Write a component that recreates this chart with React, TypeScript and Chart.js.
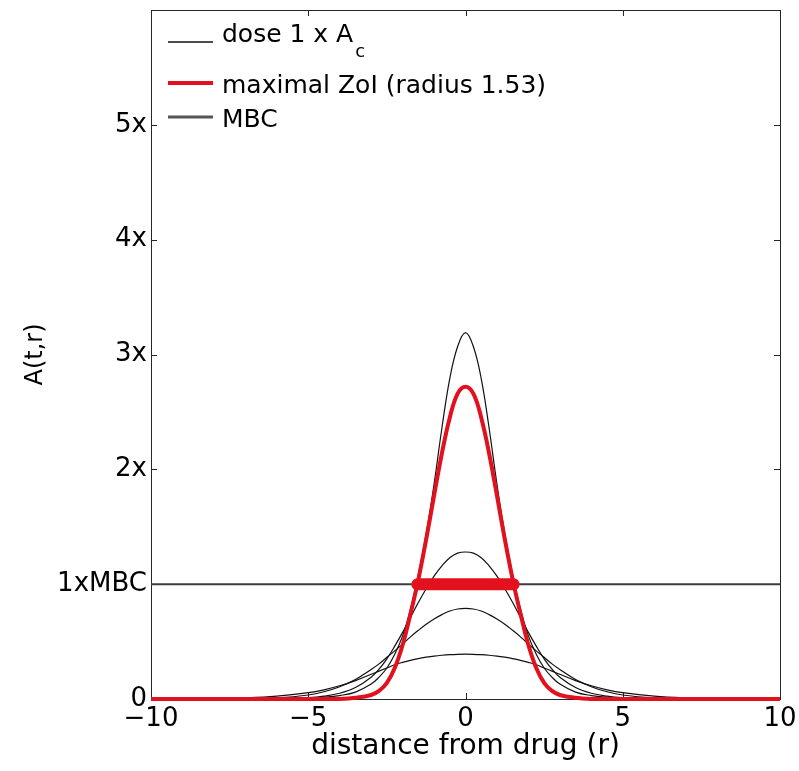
import React, { useEffect, useRef } from "react";
import { Chart, registerables } from "chart.js";

Chart.register(...registerables);

// distance from drug (r)
const rValues = [
  -10, -8, -7, -6, -5, -4.5, -4, -3.5, -3, -2.75, -2.5, -2.25, -2, -1.75, -1.5, -1.25, -1, -0.75, -0.5, -0.25,
  0,
  0.25, 0.5, 0.75, 1, 1.25, 1.5, 1.75, 2, 2.25, 2.5, 2.75, 3, 3.5, 4, 4.5, 5, 6, 7, 8, 10,
];

// dose 1 x A_c profiles (black)
const doseEarly = [
  0, 0, 0, 0.002, 0.008, 0.015, 0.03, 0.06, 0.13, 0.19, 0.27, 0.39, 0.55, 0.78, 1.08, 1.44, 1.87, 2.36, 2.79, 3.07,
  3.19,
  3.07, 2.79, 2.36, 1.87, 1.44, 1.08, 0.78, 0.55, 0.39, 0.27, 0.19, 0.13, 0.06, 0.03, 0.015, 0.008, 0.002, 0, 0, 0,
];
const doseMid = [
  0, 0, 0, 0.002, 0.012, 0.025, 0.05, 0.1, 0.19, 0.26, 0.35, 0.46, 0.58, 0.71, 0.84, 0.96, 1.07, 1.16, 1.23, 1.27,
  1.28,
  1.27, 1.23, 1.16, 1.07, 0.96, 0.84, 0.71, 0.58, 0.46, 0.35, 0.26, 0.19, 0.1, 0.05, 0.025, 0.012, 0.002, 0, 0, 0,
];
const doseLate = [
  0, 0.001, 0.003, 0.01, 0.035, 0.063, 0.107, 0.17, 0.257, 0.306, 0.363, 0.419, 0.479, 0.541, 0.598, 0.651, 0.697, 0.735, 0.766, 0.784,
  0.79,
  0.784, 0.766, 0.735, 0.697, 0.651, 0.598, 0.541, 0.479, 0.419, 0.363, 0.306, 0.257, 0.17, 0.107, 0.063, 0.035, 0.01, 0.003, 0.001, 0,
];
const doseLatest = [
  0, 0.004, 0.01, 0.025, 0.055, 0.08, 0.115, 0.16, 0.215, 0.243, 0.27, 0.298, 0.319, 0.337, 0.352, 0.364, 0.374, 0.381, 0.386, 0.389,
  0.39,
  0.389, 0.386, 0.381, 0.374, 0.364, 0.352, 0.337, 0.319, 0.298, 0.27, 0.243, 0.215, 0.16, 0.115, 0.08, 0.055, 0.025, 0.01, 0.004, 0,
];
// maximal ZoI profile (red)
const maximalZoI = [
  0, 0, 0, 0, 0, 0, 0, 0.01, 0.035, 0.07, 0.14, 0.27, 0.47, 0.74, 1.04, 1.39, 1.77, 2.14, 2.45, 2.66,
  2.72,
  2.66, 2.45, 2.14, 1.77, 1.39, 1.04, 0.74, 0.47, 0.27, 0.14, 0.07, 0.035, 0.01, 0, 0, 0, 0, 0, 0, 0,
];

const mbcLevel = 1;
const zoiRadius = 1.53;
const xRange = [-10, 10];
const yRange = [0, 6];
const xTickValues = [-10, -5, 0, 5, 10];
const xTickLabels = ["\u221210", "\u22125", "0", "5", "10"];
const yTickValues = [0, 1, 2, 3, 4, 5];
const yTickLabels = ["0", "1xMBC", "2x", "3x", "4x", "5x"];
const legendLabels = ["dose 1 x A", "maximal ZoI (radius 1.53)", "MBC"];
const legendSubscript = "c";
const xTitle = "distance from drug (r)";
const yTitle = "A(t,r)";

const RED = "#e3101e";
const BLACK = "#111111";
const MBC_GRAY = "#3c3c3c";
const FONT = '"DejaVu Sans", sans-serif';

export default function App() {
  const canvasRef = useRef<HTMLCanvasElement | null>(null);

  useEffect(() => {
    const canvas = canvasRef.current;
    if (!canvas) return;
    const pts = (ys: number[]) => rValues.map((r, i) => ({ x: r, y: ys[i] }));
    const clip = { left: 0, top: 0, right: 0, bottom: 6 };
    const curve = (label: string, ys: number[], color: string, width: number) => ({
      label,
      data: pts(ys),
      borderColor: color,
      backgroundColor: color,
      borderWidth: width,
      pointRadius: 0,
      fill: false,
      tension: 0.4,
      clip,
    });

    const matlabAxes = {
      id: "matlabAxes",
      beforeDatasetsDraw(chart: any) {
        const { ctx, chartArea } = chart;
        const { left, right, top, bottom } = chartArea;
        const xs = chart.scales.x;
        const ys = chart.scales.y;
        ctx.save();
        ctx.strokeStyle = "#262626";
        ctx.lineWidth = 1;
        ctx.strokeRect(left + 0.5, top + 0.5, right - left, bottom - top);
        const tl = 6;
        ctx.beginPath();
        xTickValues.forEach((v) => {
          const px = Math.round(xs.getPixelForValue(v)) + 0.5;
          ctx.moveTo(px, bottom);
          ctx.lineTo(px, bottom - tl);
          ctx.moveTo(px, top);
          ctx.lineTo(px, top + tl);
        });
        yTickValues.forEach((v) => {
          const py = Math.round(ys.getPixelForValue(v)) + 0.5;
          ctx.moveTo(left, py);
          ctx.lineTo(left + tl, py);
          ctx.moveTo(right, py);
          ctx.lineTo(right - tl, py);
        });
        ctx.stroke();
        ctx.restore();
      },
      afterDraw(chart: any) {
        const { ctx } = chart;
        ctx.save();
        const lx0 = 168;
        const lx1 = 213;
        const tx = 222;
        const rows = [
          { y: 42, base: 42, color: BLACK, width: 1.3 },
          { y: 83, base: 93, color: RED, width: 4 },
          { y: 117, base: 127, color: "#555555", width: 3 },
        ];
        rows.forEach((row, i) => {
          ctx.beginPath();
          ctx.strokeStyle = row.color;
          ctx.lineWidth = row.width;
          ctx.moveTo(lx0, row.y);
          ctx.lineTo(lx1, row.y);
          ctx.stroke();
          ctx.font = `25px ${FONT}`;
          ctx.fillStyle = "#000";
          ctx.textBaseline = "alphabetic";
          ctx.textAlign = "left";
          ctx.fillText(legendLabels[i], tx, row.base);
          if (i === 0) {
            const w = ctx.measureText(legendLabels[i]).width;
            ctx.font = `18px ${FONT}`;
            ctx.fillText(legendSubscript, tx + w + 2, row.base + 15);
          }
        });
        ctx.restore();
      },
    };

    const chart = new Chart(canvas, {
      type: "line",
      data: {
        datasets: [
          {
            label: "ZoI",
            data: [
              { x: -zoiRadius, y: mbcLevel },
              { x: zoiRadius, y: mbcLevel },
            ],
            borderColor: RED,
            backgroundColor: RED,
            borderWidth: 12,
            borderCapStyle: "round",
            pointRadius: 0,
            fill: false,
          } as any,
          curve("maximal ZoI (radius 1.53)", maximalZoI, RED, 4),
          curve("dose 1 x Ac", doseEarly, BLACK, 1.2),
          curve("dose 1 x Ac (2)", doseMid, BLACK, 1.2),
          curve("dose 1 x Ac (3)", doseLate, BLACK, 1.2),
          curve("dose 1 x Ac (4)", doseLatest, BLACK, 1.2),
          {
            label: "MBC",
            data: [
              { x: xRange[0], y: mbcLevel },
              { x: xRange[1], y: mbcLevel },
            ],
            borderColor: MBC_GRAY,
            borderWidth: 2,
            pointRadius: 0,
            fill: false,
          },
        ],
      },
      options: {
        animation: false,
        responsive: false,
        devicePixelRatio: 1,
        layout: { padding: { left: 0, right: 19, top: 10, bottom: 0 } },
        plugins: {
          legend: { display: false },
          tooltip: { enabled: false },
        },
        scales: {
          x: {
            type: "linear",
            min: xRange[0],
            max: xRange[1],
            afterBuildTicks: (s: any) => {
              s.ticks = xTickValues.map((v) => ({ value: v }));
            },
            afterFit: (s: any) => {
              s.height = 72;
              s.paddingLeft = 0;
              s.paddingRight = 0;
            },
            ticks: {
              callback: (_v: any, i: number) => xTickLabels[i],
              font: { family: FONT, size: 26 },
              color: "#000",
              padding: 5,
              maxRotation: 0,
              autoSkip: false,
            },
            grid: { display: false, drawTicks: false, tickLength: 0 },
            border: { display: false },
            title: {
              display: true,
              text: xTitle,
              color: "#000",
              font: { family: FONT, size: 28 },
              padding: { top: 0, bottom: 7 },
            },
          },
          y: {
            type: "linear",
            min: yRange[0],
            max: yRange[1],
            afterBuildTicks: (s: any) => {
              s.ticks = yTickValues.map((v) => ({ value: v }));
            },
            afterFit: (s: any) => {
              s.width = 151;
              s.paddingTop = 0;
              s.paddingBottom = 0;
            },
            ticks: {
              callback: (_v: any, i: number) => yTickLabels[i],
              font: { family: FONT, size: 26 },
              color: "#000",
              padding: 4,
              autoSkip: false,
            },
            grid: { display: false, drawTicks: false, tickLength: 0 },
            border: { display: false },
            title: {
              display: true,
              text: yTitle,
              color: "#000",
              font: { family: FONT, size: 24 },
              padding: { top: 21, bottom: 0 },
            },
          },
        },
      },
      plugins: [matlabAxes],
    });
    return () => chart.destroy();
  }, []);

  return (
    <div style={{ position: "fixed", left: 0, top: 0, width: 799, height: 771, background: "#fff" }}>
      <canvas ref={canvasRef} width={799} height={771} style={{ width: 799, height: 771, display: "block" }} />
    </div>
  );
}
